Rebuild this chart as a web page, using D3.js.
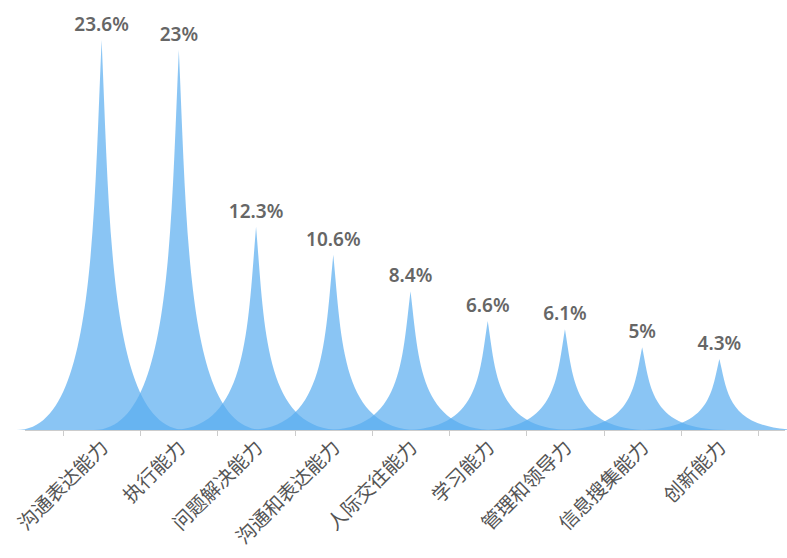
<!DOCTYPE html>
<html>
<head>
<meta charset="utf-8">
<script src="https://cdn.jsdelivr.net/npm/d3@7"></script>
<style>
    body { margin: 0; background: #fff; }
    svg text { font-family: "Noto Sans CJK SC", "Noto Sans", sans-serif; }
</style>
</head>
<body>
<div id="myDiv"><svg width="787" height="558"></svg></div>
<script>
const categories = ["沟通表达能力", "执行能力", "问题解决能力", "沟通和表达能力", "人际交往能力",
    "学习能力", "管理和领导力", "信息搜集能力", "创新能力"];
const values = [23.6, 23, 12.3, 10.6, 8.4, 6.6, 6.1, 5, 4.3];
const valueLabels = ["23.6%", "23%", "12.3%", "10.6%", "8.4%", "6.6%", "6.1%", "5%", "4.3%"];

const svg = d3.select("#myDiv").select("svg");

const baseY = 430;
const x = d3.scaleBand().domain(categories).range([63, 758]).padding(0);
const y = d3.scaleLinear().domain([0, 23.6]).range([baseY, 40]);

// spike shape, like the echarts "peak" symbol path
function spike(d, i) {
    let cx = x(categories[i]) + x.bandwidth() / 2;
    let w = x.bandwidth() * 2.2;
    let top = y(d);
    let h = baseY - top;
    let sx = w / 10, sy = h / 10;
    let x0 = cx - w / 2;
    let p = d3.path();
    p.moveTo(x0, baseY);
    p.lineTo(x0 + 10 * sx, baseY);
    p.bezierCurveTo(x0 + 5.5 * sx, baseY, x0 + 5.5 * sx, top + 5 * sy, x0 + 5 * sx, top);
    p.bezierCurveTo(x0 + 4.5 * sx, top + 5 * sy, x0 + 4.5 * sx, baseY, x0, baseY);
    p.closePath();
    return p.toString();
}

svg.selectAll("path.spike")
    .data(values)
    .enter()
    .append("path")
    .attr("class", "spike")
    .attr("d", spike)
    .attr("fill", "#59acf0")
    .attr("fill-opacity", 0.7);

// axis line + ticks
svg.append("line")
    .attr("x1", 25).attr("x2", 785)
    .attr("y1", baseY + 0.5).attr("y2", baseY + 0.5)
    .attr("stroke", "#cccccc");

let tickPos = categories.map(c => x(c)).concat([x.range()[1]]);
svg.selectAll("line.tick")
    .data(tickPos)
    .enter()
    .append("line")
    .attr("class", "tick")
    .attr("x1", d => Math.round(d) + 0.5)
    .attr("x2", d => Math.round(d) + 0.5)
    .attr("y1", baseY)
    .attr("y2", baseY + 6)
    .attr("stroke", "#cccccc");

// category labels, rotated
svg.selectAll("text.cat")
    .data(categories)
    .enter()
    .append("text")
    .attr("class", "cat")
    .attr("transform", d => "translate(" + (x(d) + x.bandwidth() / 2 + 4) + "," + (baseY + 15) + ") rotate(-45)")
    .attr("text-anchor", "end")
    .attr("dominant-baseline", "middle")
    .style("font-size", "19.5px")
    .style("fill", "#555")
    .text(d => d);

// value labels
svg.selectAll("text.val")
    .data(values)
    .enter()
    .append("text")
    .attr("class", "val")
    .attr("x", (d, i) => x(categories[i]) + x.bandwidth() / 2)
    .attr("y", d => y(d) - 9)
    .attr("text-anchor", "middle")
    .style("font-family", "'Noto Sans', sans-serif")
    .style("font-size", "19px")
    .style("font-weight", "600")
    .style("fill", "#666")
    .text((d, i) => valueLabels[i]);
</script>
</body>
</html>
